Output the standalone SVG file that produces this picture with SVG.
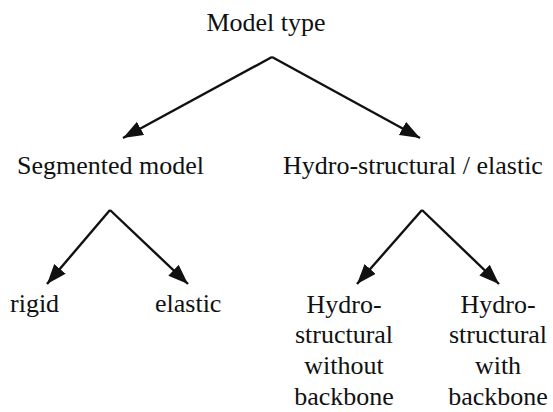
<svg xmlns="http://www.w3.org/2000/svg" width="553" height="412" viewBox="0 0 553 412">
<style>
text{font-size:26px;fill:#111}
.c{text-anchor:middle}
.e{fill:none;stroke:#111;stroke-width:2.4}
</style>
<defs>
<marker id="ah" markerUnits="userSpaceOnUse" markerWidth="22" markerHeight="16" refX="20" refY="7.5" orient="auto">
<path d="M0,0 L20,7.5 L0,15 Z" fill="#111"/>
</marker>
</defs>
<rect width="553" height="412" fill="#fff"/>
<g id="connectors">
<path class="e" d="M272,57 L123,138" marker-end="url(#ah)"/>
<path class="e" d="M272,57 L420,138" marker-end="url(#ah)"/>
<path class="e" d="M110,210 L47,284" marker-end="url(#ah)"/>
<path class="e" d="M110,210 L188,284" marker-end="url(#ah)"/>
<path class="e" d="M422,210 L357,284" marker-end="url(#ah)"/>
<path class="e" d="M422,210 L499,284" marker-end="url(#ah)"/>
</g>
<g font-family="Liberation Serif, DejaVu Serif, serif">
<g id="model-type"><text class="c" x="266" y="31">Model type</text></g>
<g id="segmented"><text x="17" y="174">Segmented model</text></g>
<g id="hydro-elastic"><text x="283" y="174">Hydro-structural / elastic</text></g>
<g id="rigid"><text x="10" y="312">rigid</text></g>
<g id="elastic"><text x="155" y="312">elastic</text></g>
<g id="without-backbone"><text class="c" x="344" y="313">Hydro-</text><text class="c" x="344" y="343">structural</text><text class="c" x="344" y="374">without</text><text class="c" x="344" y="405">backbone</text></g>
<g id="with-backbone"><text class="c" x="498" y="313">Hydro-</text><text class="c" x="498" y="343">structural</text><text class="c" x="498" y="374">with</text><text class="c" x="498" y="405">backbone</text></g>
</g>
</svg>
